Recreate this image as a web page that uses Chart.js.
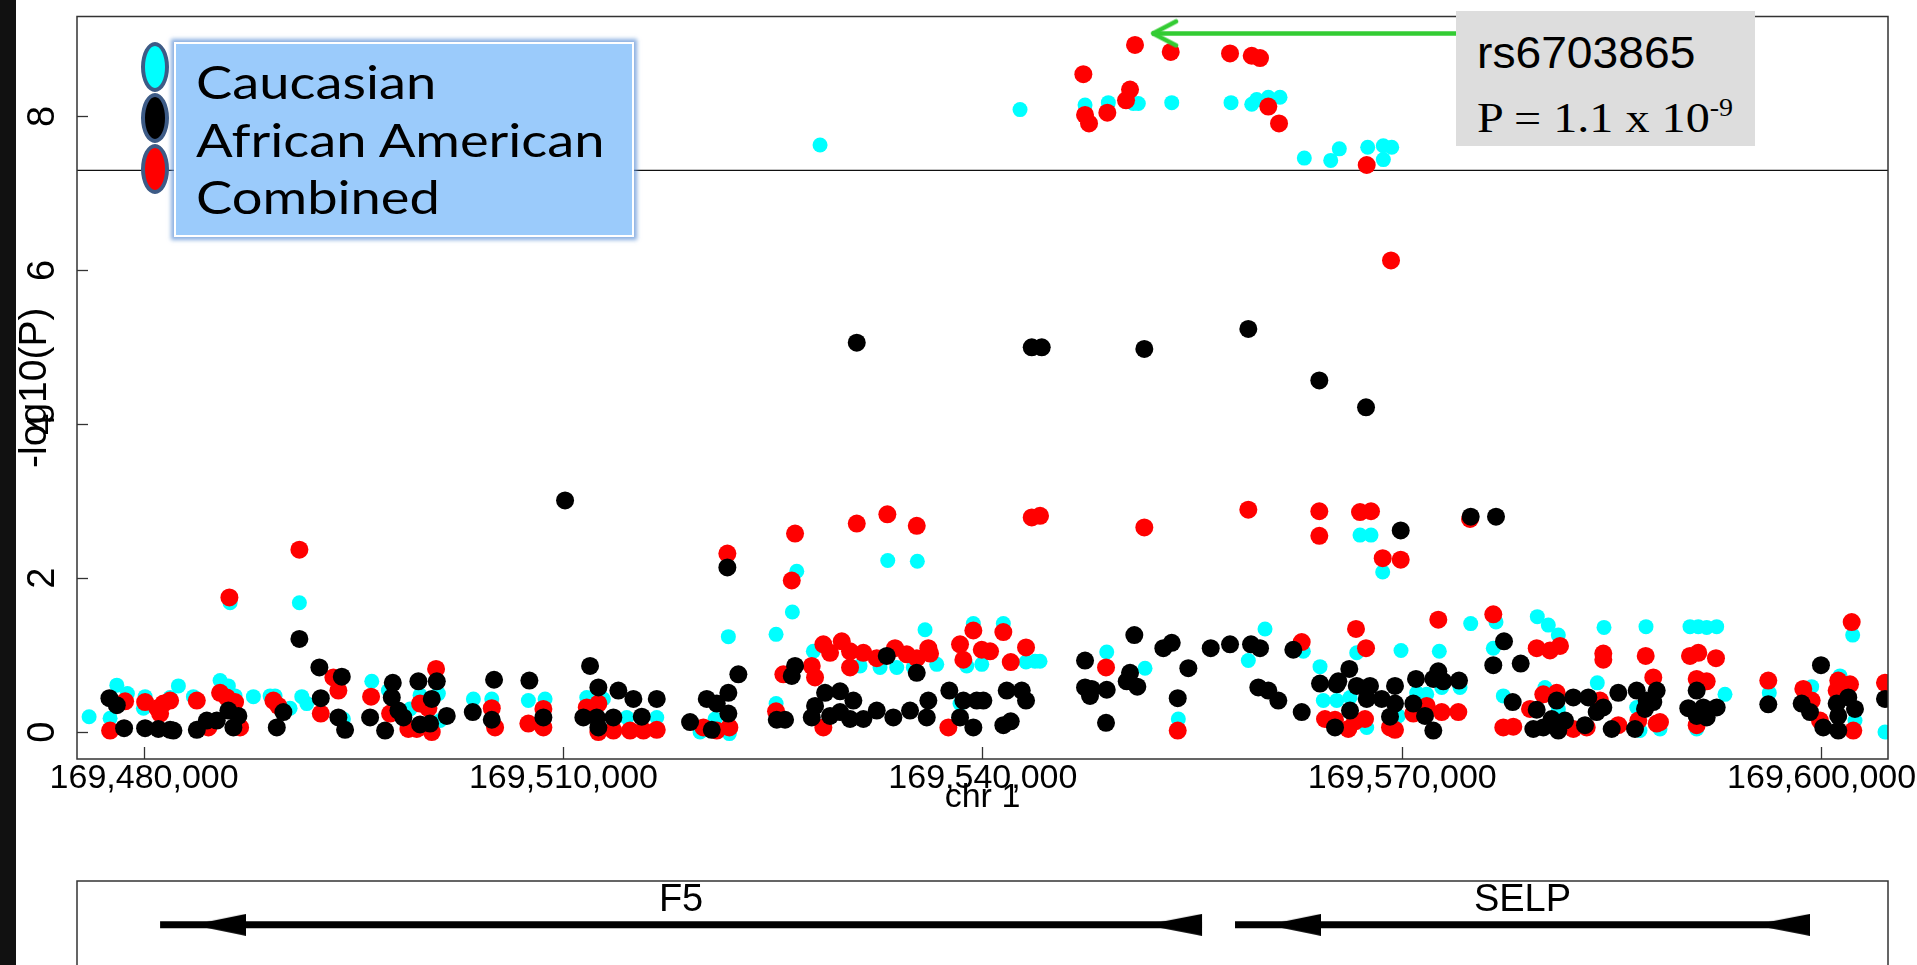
<!DOCTYPE html>
<html>
<head>
<meta charset="utf-8">
<script src="https://cdn.jsdelivr.net/npm/chart.js@4.4.1/dist/chart.umd.min.js"></script>
<style>
  html, body { margin: 0; padding: 0; background: #fff; }
  body { width: 1917px; height: 965px; overflow: hidden; position: relative; font-family: 'Liberation Sans', Arial, sans-serif; }
  #strip { position: absolute; left: 0; top: 0; width: 16px; height: 965px; background: #111; }
  #main { position: absolute; left: 0; top: 0; }
  #genes { position: absolute; left: 0; top: 860px; }
  #key { position: absolute; left: 0; top: 0; }
  .key-box { position: absolute; left: 174px; top: 42px; width: 456px; height: 191px; background: #9bcbfb;
             border: 2px solid #fff; box-shadow: 0 0 4px 3px rgba(100,150,215,.75); }
  .key-dot { position: absolute; left: 141px; width: 20px; height: 42px; border: 4px solid #3d5b86; border-radius: 50%; }
  .key-txt { position: absolute; left: 196px; font-family: Lato, sans-serif; font-size: 46px; line-height: 46px;
             transform-origin: 0 0; transform: scaleX(1.18); white-space: nowrap; color: #000; }
  #snp { position: absolute; left: 1456px; top: 11px; width: 299px; height: 135px; background: #dddddd; }
  #snp .l1 { position: absolute; left: 21px; top: 20px; font-size: 44px; line-height: 44px; white-space: nowrap;
             transform-origin: 0 0; transform: scaleX(1.05); }
  #snp .l2 { position: absolute; left: 21px; top: 85px; font-family: 'Liberation Serif', 'Times New Roman', serif;
             font-size: 43px; line-height: 43px; white-space: nowrap; transform-origin: 0 0; transform: scaleX(1.12); }
  #snp .l2 span { font-size: 25px; vertical-align: 16px; line-height: 0; }
</style>
</head>
<body>
<div id="strip"></div>
<canvas id="main" width="1917" height="830"></canvas>
<canvas id="genes" width="1917" height="140"></canvas>
<div id="key"></div>
<div id="snp"></div>
<script>
// axis setup
const xTicks = [169480000, 169510000, 169540000, 169570000, 169600000];
const yTicks = [0, 2, 4, 6, 8];
const xMin = 169475200, xMax = 169604750;
const yMin = -0.35, yMax = 9.3;
const gwLine = 7.3;

const seriesNames = ['Caucasian', 'African American', 'Combined'];
const seriesColors = ['#00ffff', '#000000', '#ff0000'];

// Caucasian
const cauPos = [169476066,169477568,169478047,169478805,169479950,169480072,169481860,169482453,169483526,169485436,
  169486030,169486152,169486509,169487818,169489013,169489370,169490443,169491109,169491280,169491638,
  169494256,169496287,169497475,169499027,169499742,169501051,169501173,169503555,169504871,169507489,
  169508684,169511666,169512854,169514528,169516674,169519771,169520844,169521795,169521867,169525207,
  169525210,169526373,169526688,169527875,169528354,169531215,169532646,169533197,169533841,169535028,
  169535314,169535865,169536702,169538368,169538848,169539320,169539921,169541466,169542660,169543089,
  169543733,169544091,169547310,169548862,169548976,169550764,169551122,169551602,169553512,169553984,
  169557753,169558991,169559234,169559592,169560185,169560421,169561258,169562925,169562996,169564119,
  169564355,169564885,169565314,169565500,169566265,169566745,169566980,169567460,169567531,169567767,
  169568604,169568647,169568650,169569248,169569720,169569913,169571036,169571752,169572653,169572824,
  169574133,169574899,169576515,169576709,169577231,169579663,169580214,169580450,169581165,169581170,
  169583955,169584434,169586773,169587009,169587438,169588439,169590585,169591064,169591179,169591780,
  169592495,169593089,169596258,169599291,169601315,169602223,169602388,169604534];
const cauLogP = [0.20,0.18,0.61,0.50,0.31,0.46,0.45,0.60,0.46,0.67,
  0.60,1.68,0.47,0.46,0.47,0.47,0.31,1.68,0.46,0.37,
  0.17,0.66,0.54,0.30,0.48,0.50,0.15,0.43,0.43,0.41,
  0.43,0.45,0.43,0.19,0.19,0.00,0.17,1.24,-0.02,1.27,
  0.37,1.56,2.09,1.05,7.63,0.86,0.84,2.23,0.84,0.84,
  2.22,1.33,0.88,0.37,0.86,1.41,0.88,1.41,8.09,0.91,
  0.92,0.92,8.15,1.04,8.18,8.17,8.17,0.83,8.18,0.17,
  8.18,0.93,8.16,8.22,1.34,8.25,8.25,1.05,7.46,0.85,
  0.41,7.43,0.41,7.58,0.45,1.03,2.56,0.06,7.60,2.56,
  2.08,7.62,7.44,7.60,0.21,1.06,0.51,0.49,1.05,0.58,
  0.58,1.41,1.09,1.43,0.47,1.50,0.58,1.39,1.26,0.30,
  0.64,1.36,0.32,0.02,1.37,0.04,1.37,0.04,1.37,1.36,
  1.37,0.49,0.51,0.59,0.73,1.26,0.15,0.00];

// African American
const aaPos = [169477518,169478047,169478569,169480072,169481023,169481860,169482096,169483770,169484485,169485200,
  169486030,169486388,169486745,169489492,169489964,169491109,169492539,169492639,169493898,169494142,
  169494378,169496166,169497239,169497718,169497790,169498190,169498548,169499621,169499742,169500458,
  169500579,169500937,169501652,169503512,169504871,169505036,169507561,169508562,169510114,169511423,
  169511902,169512382,169512496,169512496,169513569,169513927,169515000,169515600,169516674,169519055,
  169520250,169520608,169520965,169521724,169521795,169521795,169522510,169525257,169525851,169526330,
  169526566,169527761,169527997,169528712,169529070,169529785,169529785,169530500,169530736,169530980,
  169531452,169532410,169533125,169533597,169534792,169535271,169535987,169536101,169537603,169538368,
  169538605,169539320,169539563,169540035,169541466,169541709,169541995,169542782,169543089,169543497,
  169544212,169547310,169547310,169547667,169547789,169548812,169548862,169550293,169550529,169550836,
  169551051,169551551,169552911,169553512,169553941,169554699,169556301,169557682,169558991,169559184,
  169559706,169559827,169560421,169561137,169562209,169562810,169564069,169564119,169565192,169565314,
  169565428,169566215,169566265,169566745,169567410,169567460,169567696,169568533,169569126,169569484,
  169569484,169569892,169570793,169570986,169571630,169572224,169572224,169572581,169572939,169574062,
  169574899,169576515,169576709,169577281,169577903,169578475,169579377,169579620,169580092,169580693,
  169581050,169581165,169581644,169582238,169583075,169583311,169583912,169584384,169584985,169585457,
  169586651,169586773,169587367,169587488,169587960,169588203,169590464,169591064,169591064,169591537,
  169591780,169592495,169596186,169598575,169599169,169599956,169600120,169601079,169601193,169601193,
  169601909,169602388,169604534];
const aaLogP = [0.44,0.35,0.05,0.05,0.04,0.03,0.02,0.03,0.15,0.15,
  0.28,0.06,0.21,0.06,0.26,1.21,0.84,0.44,0.19,0.72,
  0.03,0.19,0.02,0.45,0.64,0.28,0.19,0.66,0.10,0.11,
  0.43,0.66,0.21,0.26,0.16,0.68,0.67,0.19,3.01,0.19,
  0.86,0.19,0.58,0.06,0.19,0.54,0.43,0.20,0.43,0.13,
  0.43,0.03,0.37,2.14,0.51,0.24,0.75,0.16,0.16,0.73,
  0.86,0.19,0.34,0.51,0.21,0.53,0.26,0.17,0.41,5.06,
  0.17,0.28,0.99,0.19,0.28,0.77,0.19,0.41,0.54,0.19,
  0.41,0.06,0.41,0.41,0.09,0.54,0.14,0.54,0.41,5.00,
  5.00,0.93,0.58,0.47,0.56,0.12,0.55,0.66,0.77,1.26,
  0.59,4.98,1.09,1.16,0.44,0.83,1.09,1.14,5.24,1.14,
  0.58,1.09,0.54,0.41,1.07,0.26,4.57,0.63,0.06,0.62,
  0.66,0.82,0.28,0.60,4.22,0.43,0.60,0.43,0.20,0.60,
  0.37,2.62,0.37,0.69,0.21,0.69,0.02,0.79,0.66,0.67,
  2.80,0.87,2.80,1.18,0.39,0.89,0.04,0.29,0.06,0.17,
  0.41,0.02,0.15,0.45,0.09,0.45,0.26,0.32,0.04,0.51,
  0.04,0.54,0.30,0.41,0.39,0.54,0.31,0.54,0.21,0.32,
  0.19,0.32,0.36,0.37,0.26,0.87,0.06,0.37,0.21,0.02,
  0.45,0.30,0.43];

// Combined
const combPos = [169477568,169478641,169480072,169480951,169481144,169481381,169481860,169483770,169484599,169485436,
  169485916,169486102,169486509,169486867,169489249,169489606,169491109,169492639,169493541,169493898,
  169496237,169497596,169498905,169499506,169499742,169500336,169500579,169500887,169504871,169505107,
  169507489,169508562,169508562,169511666,169512496,169512496,169513569,169514764,169515715,169516674,
  169520007,169520965,169521724,169521867,169525207,169525729,169526330,169526566,169527761,169527997,
  169528590,169528590,169529070,169529906,169530500,169530500,169530980,169531452,169532410,169533168,
  169533719,169534556,169535271,169535271,169536101,169536223,169537532,169538368,169538605,169539320,
  169539921,169540514,169541466,169541995,169543089,169543497,169544091,169547188,169547310,169547596,
  169548812,169548905,169550242,169550529,169550886,169551551,169553440,169553941,169557682,169558991,
  169559234,169559827,169560421,169561187,169562810,169564069,169564069,169564477,169565192,169566144,
  169566623,169566694,169566980,169567338,169567410,169567460,169567767,169568604,169569126,169569198,
  169569484,169569892,169570793,169571752,169572581,169572824,169574012,169574849,169576515,169577231,
  169577946,169579141,169579620,169580092,169580571,169581050,169581286,169582238,169583196,169584148,
  169584384,169584384,169585457,169586887,169587417,169587960,169588203,169588439,169590585,169591064,
  169591064,169591179,169591780,169592445,169596186,169598690,169599291,169599884,169601079,169601193,
  169602030,169602152,169602266,169604534];
const combLogP = [0.02,0.40,0.39,0.31,0.24,0.37,0.41,0.41,0.06,0.51,
  0.45,1.75,0.39,0.06,0.41,0.34,2.37,0.24,0.71,0.54,
  0.46,0.24,0.04,0.04,0.37,0.31,0.00,0.82,0.31,0.06,
  0.11,0.30,0.06,0.32,0.37,0.00,0.02,0.02,0.02,0.03,
  0.06,0.02,2.32,0.06,0.27,0.75,1.97,2.58,0.86,0.71,
  1.14,0.06,1.03,1.18,1.05,0.84,2.71,1.03,0.96,2.83,
  1.09,1.01,2.68,0.96,1.09,1.02,0.06,1.14,0.94,1.32,
  1.07,1.05,1.30,0.91,1.10,2.79,2.81,8.55,8.02,7.91,
  0.84,8.05,8.21,8.35,8.93,2.66,8.84,0.02,8.82,2.89,
  8.79,8.76,8.13,7.91,1.17,2.87,2.55,0.17,0.16,0.04,
  0.14,1.34,2.86,0.17,1.09,7.37,2.87,2.26,0.06,6.13,
  0.03,2.24,0.24,0.34,1.46,0.26,0.26,2.77,1.53,0.06,
  0.07,0.30,1.09,0.49,1.06,0.51,1.12,0.04,0.06,0.41,
  1.02,0.94,0.09,0.15,0.99,0.71,0.11,0.13,0.99,0.69,
  0.09,1.03,0.66,0.96,0.67,0.56,0.41,0.15,0.54,0.67,
  0.62,1.43,0.02,0.64];

// top SNP callout
const topSnp = 'rs6703865';
const topSnpP = 'P = 1.1 x 10';
const topSnpExp = '-9';
const arrowY = 9.08;
const arrowTip = 169552102, arrowTail = 169573850;

// gene track
const geneNames = ['F5', 'SELP'];
const geneStart = [169481144, 169558039];
const geneEnd = [169555679, 169599169];
const geneY = 5.9, geneLabelY = 8.2;

Chart.defaults.font.family = "'Liberation Sans', Arial, sans-serif";
Chart.defaults.color = '#000';

var pts = (xs, ys) => xs.map((x, i) => ({x: x, y: ys[i]}));

// little canvases used as point styles
function head(tipOffset, len, h) {
  var half = Math.max(Math.abs(tipOffset), Math.abs(tipOffset + len));
  var c = document.createElement('canvas');
  c.width = half * 2; c.height = h;
  var g = c.getContext('2d');
  g.fillStyle = '#000';
  g.beginPath();
  g.moveTo(half + tipOffset, h / 2);
  g.lineTo(half + tipOffset + len, 0);
  g.lineTo(half + tipOffset + len, h);
  g.closePath();
  g.fill();
  return c;
}
function chevron() {
  var c = document.createElement('canvas');
  c.width = 56; c.height = 30;
  var g = c.getContext('2d');
  g.strokeStyle = '#33cc33'; g.lineWidth = 4.5; g.lineCap = 'round'; g.lineJoin = 'round';
  g.beginPath(); g.moveTo(52, 3); g.lineTo(29, 15); g.lineTo(52, 27); g.stroke();
  return c;
}

var frame = {
  id: 'frame',
  afterDatasetsDraw(chart) {
    var ctx = chart.ctx, a = chart.chartArea;
    ctx.save();
    ctx.strokeStyle = '#333';
    ctx.lineWidth = 1.5;
    ctx.strokeRect(a.left, a.top, a.right - a.left, a.bottom - a.top);
    ctx.restore();
  }
};

var geneLabels = {
  id: 'geneLabels',
  afterDatasetsDraw(chart) {
    var ctx = chart.ctx, x = chart.scales.x, y = chart.scales.y;
    ctx.save();
    ctx.font = "38px 'Liberation Sans', Arial, sans-serif";
    ctx.fillStyle = '#000';
    ctx.textAlign = 'center';
    ctx.textBaseline = 'middle';
    geneNames.forEach((g, i) => {
      ctx.fillText(g, x.getPixelForValue((geneStart[i] + geneEnd[i]) / 2), y.getPixelForValue(geneLabelY));
    });
    ctx.restore();
  }
};

new Chart(document.getElementById('main'), {
  type: 'scatter',
  data: {
    datasets: [
      {label: seriesNames[1], data: pts(aaPos, aaLogP), backgroundColor: seriesColors[1], borderWidth: 0, pointRadius: 9, order: 0},
      {label: seriesNames[2], data: pts(combPos, combLogP), backgroundColor: seriesColors[2], borderWidth: 0, pointRadius: 9, order: 1},
      {label: seriesNames[0], data: pts(cauPos, cauLogP), backgroundColor: seriesColors[0], borderWidth: 0, pointRadius: 7.5, order: 2},
      {label: 'genome-wide', data: [{x: xMin, y: gwLine}, {x: xMax, y: gwLine}], showLine: true,
       borderColor: '#111', borderWidth: 1.3, pointRadius: 0, order: 3},
      {label: 'top SNP', data: [{x: arrowTail, y: arrowY}, {x: arrowTip, y: arrowY}], showLine: true,
       borderColor: '#33cc33', borderWidth: 4.5, pointRadius: [0, 12], pointStyle: ['circle', chevron()], order: -1}
    ]
  },
  options: {
    responsive: false,
    animation: false,
    events: [],
    layout: {padding: {left: 16, right: 29, top: 9, bottom: 0}},
    plugins: {legend: {display: false}, tooltip: {enabled: false}},
    scales: {
      x: {
        type: 'linear', min: xMin, max: xMax,
        border: {display: false},
        grid: {drawOnChartArea: false, tickLength: -12, tickColor: '#333', tickWidth: 1.3},
        ticks: {font: {size: 34}, color: '#000', padding: 11, maxRotation: 0, autoSkip: false,
                callback: v => v.toLocaleString('en-US')},
        afterBuildTicks: s => { s.ticks = xTicks.map(v => ({value: v})); },
        afterFit: s => { s.height = 71; s.paddingLeft = 0; s.paddingRight = 0; },
        title: {display: true, text: 'chr 1', color: '#000', font: {size: 34, lineHeight: 1.2}, padding: {top: 0, bottom: 12}}
      },
      y: {
        min: yMin, max: yMax,
        border: {display: false},
        grid: {drawOnChartArea: false, tickLength: -11, tickColor: '#333', tickWidth: 1.3},
        ticks: {font: {size: 38}, color: '#000', padding: 34, crossAlign: 'center', minRotation: 90, maxRotation: 90,
                callback: v => String(v)},
        afterBuildTicks: s => { s.ticks = yTicks.map(v => ({value: v})); },
        afterFit: s => { s.width = 61; s.paddingTop = 0; s.paddingBottom = 0; },
        title: {display: true, text: '-log10(P)', color: '#000', font: {size: 39, lineHeight: 1}, padding: {top: 0, bottom: 0}}
      }
    }
  },
  plugins: [frame]
});

new Chart(document.getElementById('genes'), {
  type: 'scatter',
  data: {
    datasets: geneNames.map((g, i) => ({
      label: g,
      data: [{x: geneStart[i], y: geneY}, {x: geneEnd[i], y: geneY}],
      showLine: true, borderColor: '#000', borderWidth: 7,
      pointRadius: 5, pointStyle: [head(32, 54, 22), head(-57, 57, 22)]
    }))
  },
  options: {
    responsive: false,
    animation: false,
    events: [],
    layout: {padding: {left: 77, right: 29, top: 21, bottom: 10}},
    plugins: {legend: {display: false}, tooltip: {enabled: false}},
    scales: {
      x: {type: 'linear', display: false, min: xMin, max: xMax},
      y: {display: false, min: 0, max: 10}
    }
  },
  plugins: [frame, geneLabels]
});

// legend box, built from the series names
var key = document.getElementById('key');
var box = document.createElement('div');
box.className = 'key-box';
key.appendChild(box);
seriesNames.forEach((name, i) => {
  var dot = document.createElement('div');
  dot.className = 'key-dot';
  dot.style.top = (42 + i * 51) + 'px';
  dot.style.background = seriesColors[i];
  key.appendChild(dot);
  var t = document.createElement('div');
  t.className = 'key-txt';
  t.style.top = (59 + i * 57.5) + 'px';
  t.textContent = name;
  key.appendChild(t);
});

var snp = document.getElementById('snp');
snp.innerHTML = '<div class="l1"></div><div class="l2"></div>';
snp.querySelector('.l1').textContent = topSnp;
snp.querySelector('.l2').innerHTML = topSnpP + '<span>' + topSnpExp + '</span>';
</script>
</body>
</html>
